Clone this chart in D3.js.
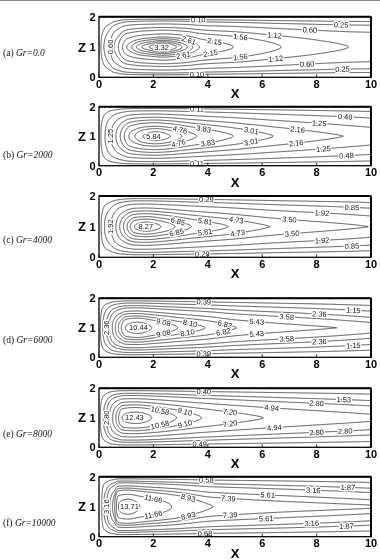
<!DOCTYPE html>
<html><head><meta charset="utf-8">
<script src="https://cdn.jsdelivr.net/npm/d3@7"></script>
<style>body{margin:0;background:#fff} svg{will-change:transform}</style>
</head><body><svg id="c" width="380" height="560"></svg>
<script>
// ================= DATA =================
const panelTags = ["(a) ", "(b) ", "(c) ", "(d) ", "(e) ", "(f) "];
const grValues  = ["0.0", "2000", "4000", "6000", "8000", "10000"];
const xTicks = [0, 2, 4, 6, 8, 10];
const zTicks = [0, 1, 2];

// contour levels; x where each crosses the mid-plane z=1 upstream (left) and
// downstream tip (right, null = contour leaves through x=10)
const levelsA = [0.10, 0.25, 0.60, 1.12, 1.56, 2.15, 2.61, 2.85, 3.05, 3.20, 3.32];
const leftA   = [0.07, 0.18, 0.40, 0.55, 0.71, 0.86, 1.02, 1.20, 1.38, 1.57, 1.85];
const rightA  = [null, null, null, 9.17, 6.70, 4.94, 3.70, 3.45, 3.25, 3.05, 2.85];
const peakA = [2.35, 3.5], outletA = 1.06, shapeA = [1.7, 1.8, 1.8];
const labelsA = [["0.10",0.10,3.65,"t"],["0.10",0.10,3.6,"b"],["0.25",0.25,8.9,"t"],["0.25",0.25,8.95,"b"],
  ["0.60",0.60,7.75,"t"],["0.60",0.60,7.65,"b"],["1.12",1.12,6.45,"t"],["1.12",1.12,6.5,"b"],
  ["1.56",1.56,5.2,"t"],["1.56",1.56,5.2,"b"],["2.15",2.15,4.25,"t"],["2.15",2.15,4.1,"b"],
  ["2.61",2.61,3.3,"t"],["2.61",2.61,3.1,"b"],["3.32",3.32,2.3,"c"],["0.60",0.60,0,"l"]];

const levelsB = [0.11, 0.48, 1.25, 2.16, 3.01, 3.83, 4.76, 5.30, 5.84];
const leftB   = [0.07, 0.22, 0.43, 0.62, 0.78, 0.93, 1.10, 1.32, 1.62];
const rightB  = [null, null, null, 8.98, 6.41, 4.94, 3.59, 3.05, 2.62];
const peakB = [2.1, 6.17], outletB = 1.9, shapeB = [2.0, 1.3, 1.8];
const labelsB = [["0.11",0.11,3.6,"t"],["0.11",0.11,3.6,"b"],["0.48",0.48,9.05,"t"],["0.48",0.48,9.1,"b"],
  ["1.25",1.25,8.1,"t"],["1.25",1.25,8.25,"b"],["2.16",2.16,7.3,"t"],["2.16",2.16,7.25,"b"],
  ["3.01",3.01,5.6,"t"],["3.01",3.01,5.6,"b"],["3.83",3.83,3.85,"t"],["3.83",3.83,4.0,"b"],
  ["4.76",4.76,2.98,"t"],["4.76",4.76,2.92,"b"],["5.84",5.84,2.0,"c"],["1.25",1.25,0,"l"]];

const levelsC = [0.29, 0.85, 1.92, 3.50, 4.73, 5.81, 6.85, 7.60, 8.27];
const leftC   = [0.08, 0.20, 0.43, 0.62, 0.76, 0.90, 1.03, 1.15, 1.30];
const rightC  = [null, null, null, 9.90, 6.29, 4.75, 3.40, 2.80, 2.28];
const peakC = [1.78, 8.72], outletC = 3.45, shapeC = [2.0, 1.2, 1.8];
const labelsC = [["0.29",0.29,3.95,"t"],["0.29",0.29,3.8,"b"],["0.85",0.85,9.3,"t"],["0.85",0.85,9.3,"b"],
  ["1.92",1.92,8.2,"t"],["1.92",1.92,8.2,"b"],["3.50",3.50,7.0,"t"],["3.50",3.50,7.1,"b"],
  ["4.73",4.73,5.05,"t"],["4.73",4.73,5.1,"b"],["5.81",5.81,3.9,"t"],["5.81",5.81,3.9,"b"],
  ["6.85",6.85,2.9,"t"],["6.85",6.85,2.85,"b"],["8.27",8.27,1.72,"c"],["1.92",1.92,0,"l"]];

const levelsD = [0.39, 1.15, 2.36, 3.58, 5.43, 6.82, 8.10, 9.08, 10.44];
const leftD   = [0.05, 0.14, 0.26, 0.37, 0.49, 0.60, 0.71, 0.82, 0.97];
const rightD  = [null, null, null, null, 8.74, 5.06, 3.90, 2.90, 1.94];
const peakD = [1.45, 11.15], outletD = 4.9, shapeD = [2.2, 1.1, 1.9];
const labelsD = [["0.39",0.39,3.85,"t"],["0.39",0.39,3.85,"b"],["1.15",1.15,9.35,"t"],["1.15",1.15,9.35,"b"],
  ["2.36",2.36,8.1,"t"],["2.36",2.36,8.1,"b"],["3.58",3.58,6.9,"t"],["3.58",3.58,6.9,"b"],
  ["5.43",5.43,5.8,"t"],["5.43",5.43,5.8,"b"],["6.82",6.82,4.63,"t"],["6.82",6.82,4.57,"b"],
  ["8.10",8.10,3.35,"t"],["8.10",8.10,3.25,"b"],["9.08",9.08,2.37,"t"],["9.08",9.08,2.37,"b"],
  ["10.44",10.44,1.45,"c"],["2.36",2.36,0,"l"]];

const levelsE = [0.40, 1.53, 2.80, 4.94, 7.20, 9.10, 10.58, 12.43];
const leftE   = [0.05, 0.16, 0.27, 0.38, 0.50, 0.62, 0.72, 0.85];
const rightE  = [null, null, null, null, 6.04, 3.77, 2.85, 1.94];
const peakE = [1.38, 13.25], outletE = 5.6, shapeE = [2.2, 1.3, 1.9];
const labelsE = [["0.40",0.40,3.85,"t"],["0.49",0.40,3.7,"b"],["1.53",1.53,9.0,"t"],["2.80",2.80,8.0,"t"],
  ["2.80",2.80,8.0,"b"],["2.80",2.80,9.05,"b"],["4.94",4.94,6.35,"t"],["4.94",4.94,6.45,"b"],
  ["7.20",7.20,4.82,"t"],["7.20",7.20,4.82,"b"],["9.10",9.10,3.16,"t"],["9.10",9.10,3.16,"b"],
  ["10.58",10.58,2.24,"t"],["10.58",10.58,2.24,"b"],["12.43",12.43,1.3,"c"],["2.80",2.80,0,"l"]];

const levelsF = [0.58, 1.87, 3.16, 5.61, 7.39, 8.93, 11.66, 13.71];
const leftF   = [0.10, 0.18, 0.28, 0.40, 0.50, 0.58, 0.64, 0.71];
const rightF  = [null, null, null, null, null, 4.20, 2.67, 1.50];
const peakF = [1.1, 14.66], outletF = 7.8, shapeF = [2.5, 1.2, 1.75];
const labelsF = [["0.58",0.58,3.95,"t"],["0.68",0.58,3.9,"b"],["1.87",1.87,9.15,"t"],["1.87",1.87,9.1,"b"],
  ["3.16",3.16,7.88,"t"],["3.16",3.16,7.82,"b"],["5.61",5.61,6.2,"t"],["5.61",5.61,6.15,"b"],
  ["7.39",7.39,4.75,"t"],["7.39",7.39,4.82,"b"],["8.93",8.93,3.28,"t"],["8.93",8.93,3.28,"b"],
  ["11.66",11.66,2.0,"t"],["11.66",11.66,2.0,"b"],["13.71",13.71,1.12,"c"],["3.16",3.16,0,"l"]];

// ================= LAYOUT =================
const W = 380, H = 560;
const plotX0 = 99, plotX1 = 371;
const tops    = [16.7, 106.7, 196.0, 298.3, 388.3, 476.7];
const bottoms = [77.3, 165.7, 257.3, 357.3, 447.3, 536.7];
const tagY    = [56, 158, 243, 343, 437, 526];

const panels = [
  {levels: levelsA, left: leftA, right: rightA, peak: peakA, outlet: outletA, shape: shapeA, labels: labelsA},
  {levels: levelsB, left: leftB, right: rightB, peak: peakB, outlet: outletB, shape: shapeB, labels: labelsB},
  {levels: levelsC, left: leftC, right: rightC, peak: peakC, outlet: outletC, shape: shapeC, labels: labelsC},
  {levels: levelsD, left: leftD, right: rightD, peak: peakD, outlet: outletD, shape: shapeD, labels: labelsD},
  {levels: levelsE, left: leftE, right: rightE, peak: peakE, outlet: outletE, shape: shapeE, labels: labelsE},
  {levels: levelsF, left: leftF, right: rightF, peak: peakF, outlet: outletF, shape: shapeF, labels: labelsF}
];

// monotone cubic through the mid-plane profile points
function monotone(pts) {
  const n = pts.length, X = pts.map(d => d[0]), Y = pts.map(d => d[1]);
  const h = [], d = [];
  for (let k = 0; k < n - 1; k++) { h[k] = X[k + 1] - X[k]; d[k] = (Y[k + 1] - Y[k]) / h[k]; }
  const m = new Array(n);
  m[0] = d[0]; m[n - 1] = d[n - 2];
  for (let k = 1; k < n - 1; k++) {
    if (d[k - 1] * d[k] <= 0) m[k] = 0;
    else { const w1 = 2 * h[k] + h[k - 1], w2 = h[k] + 2 * h[k - 1]; m[k] = (w1 + w2) / (w1 / d[k - 1] + w2 / d[k]); }
  }
  return x => {
    let k = d3.bisectRight(X, x) - 1; k = Math.max(0, Math.min(n - 2, k));
    const t = (x - X[k]) / h[k], t2 = t * t, t3 = t2 * t;
    return (2*t3 - 3*t2 + 1) * Y[k] + (t3 - 2*t2 + t) * h[k] * m[k] + (-2*t3 + 3*t2) * Y[k + 1] + (t3 - t2) * h[k] * m[k + 1];
  };
}

const svg = d3.select("#c");
svg.append("rect").attr("width", W).attr("height", H).attr("fill", "#fff");
svg.append("line").attr("x1", 0).attr("x2", W).attr("y1", 0.5).attr("y2", 0.5).attr("stroke", "#888").attr("stroke-width", 1);
const defs = svg.append("defs");

const nx = 401, nz = 161, dx = 10 / (nx - 1), dz = 2 / (nz - 1);
const SANS = "Liberation Sans, Arial, sans-serif";

panels.forEach((p, i) => {
  const top = tops[i], bottom = bottoms[i];
  const xs = d3.scaleLinear().domain([0, 10]).range([plotX0, plotX1]);
  const zs = d3.scaleLinear().domain([0, 2]).range([bottom, top]);

  const pts = [[0, 0]];
  p.levels.forEach((v, k) => pts.push([p.left[k], v]));
  pts.push(p.peak);
  p.levels.forEach((v, k) => { if (p.right[k] != null) pts.push([p.right[k], v]); });
  pts.push([10, p.outlet]);
  pts.sort((a, b) => a[0] - b[0]);
  const F = monotone(pts);
  const [q0, q1, pw] = p.shape;
  const psi = (x, z) => {
    const q = q0 + (q1 - q0) * x / 10;
    const b = 1 - Math.pow(Math.abs(z - 1), q);
    return b <= 0 ? 0 : Math.max(0, F(x)) * Math.pow(b, pw);
  };

  const values = new Float64Array(nx * nz);
  for (let j = 0; j < nz; j++) for (let k = 0; k < nx; k++) values[j * nx + k] = psi(k * dx, j * dz);
  const contours = d3.contours().size([nx, nz]).thresholds(p.levels)(values);
  const proj = d3.geoTransform({ point(px, py) { this.stream.point(xs((px - 0.5) * dx), zs((py - 0.5) * dz)); } });
  const path = d3.geoPath(proj);

  const cid = "clip" + i;
  defs.append("clipPath").attr("id", cid).append("rect")
    .attr("x", plotX0).attr("y", top).attr("width", plotX1 - plotX0).attr("height", bottom - top);

  const g = svg.append("g");
  g.append("g").attr("clip-path", `url(#${cid})`)
    .selectAll("path").data(contours).join("path")
    .attr("d", path).attr("fill", "none").attr("stroke", "#2a2a2a").attr("stroke-width", 0.8);

  // contour labels
  const solveZ = (x, v, upper) => {
    if (psi(x, 1) < v) return null;
    let a = 1, b = upper ? 2 : 0;
    for (let it = 0; it < 50; it++) { const m = (a + b) / 2; if (psi(x, m) >= v) a = m; else b = m; }
    return (a + b) / 2;
  };
  const solveXLeft = v => {
    let a = 0, b = p.peak[0];
    for (let it = 0; it < 50; it++) { const m = (a + b) / 2; if (psi(m, 1) >= v) b = m; else a = m; }
    return (a + b) / 2;
  };
  const lg = g.append("g").attr("font-family", SANS).attr("font-size", 7.5).attr("text-anchor", "middle");
  p.labels.forEach(([txt, v, x, side]) => {
    let X, Z, ang = 0;
    if (side === "c") { X = x; Z = 1; }
    else if (side === "l") { X = solveXLeft(v); Z = 1; ang = -90; }
    else {
      const up = side === "t";
      Z = solveZ(x, v, up); if (Z == null) return; X = x;
      const za = solveZ(x - 0.2, v, up), zb = solveZ(x + 0.2, v, up);
      if (za != null && zb != null) {
        ang = Math.atan2(zs(zb) - zs(za), xs(x + 0.2) - xs(x - 0.2)) * 180 / Math.PI;
        ang = Math.max(-25, Math.min(25, ang));
      }
    }
    lg.append("text").attr("transform", `translate(${xs(X)},${zs(Z)}) rotate(${ang})`)
      .attr("dy", "0.35em").attr("fill", "#111")
      .attr("stroke", "#fff").attr("stroke-width", 2.6).attr("paint-order", "stroke")
      .text(txt);
  });

  // frame
  g.append("rect").attr("x", plotX0).attr("y", top).attr("width", plotX1 - plotX0).attr("height", bottom - top)
    .attr("fill", "none").attr("stroke", "#000").attr("stroke-width", 1.3);
  g.append("line").attr("x1", plotX0).attr("x2", plotX1).attr("y1", top).attr("y2", top)
    .attr("stroke", "#000").attr("stroke-width", 2);
  g.append("line").attr("x1", plotX1).attr("x2", plotX1).attr("y1", top).attr("y2", bottom)
    .attr("stroke", "#000").attr("stroke-width", 1.8);

  // ticks and axis texts
  g.selectAll(".xt").data(xTicks).join("line").attr("x1", d => xs(d)).attr("x2", d => xs(d))
    .attr("y1", bottom).attr("y2", bottom - 3).attr("stroke", "#000").attr("stroke-width", 0.8);
  g.selectAll(".xl").data(xTicks).join("text").attr("x", d => xs(d)).attr("y", bottom + 10.5)
    .attr("text-anchor", "middle").attr("font-family", SANS)
    .attr("font-weight", "bold").attr("font-size", 11).text(d => d);
  g.selectAll(".zl").data(zTicks).join("text").attr("x", 95.5).attr("y", d => zs(d))
    .attr("dy", "0.36em").attr("text-anchor", "end").attr("font-family", SANS)
    .attr("font-weight", "bold").attr("font-size", 11).text(d => d);
  g.append("text").attr("x", (plotX0 + plotX1) / 2).attr("y", bottom + 21).attr("text-anchor", "middle")
    .attr("font-family", SANS).attr("font-weight", "bold").attr("font-size", 13).text("X");
  g.append("text").attr("x", 86).attr("y", zs(1)).attr("dy", "0.36em").attr("text-anchor", "end")
    .attr("font-family", SANS).attr("font-weight", "bold").attr("font-size", 13).text("Z");

  const t = g.append("text").attr("x", 3).attr("y", tagY[i])
    .attr("font-family", "Liberation Serif, Times New Roman, serif").attr("font-size", 9.5).attr("fill", "#111");
  t.append("tspan").text(panelTags[i]);
  t.append("tspan").attr("font-style", "italic").text("Gr=" + grValues[i]);
});
</script>
</body></html>
